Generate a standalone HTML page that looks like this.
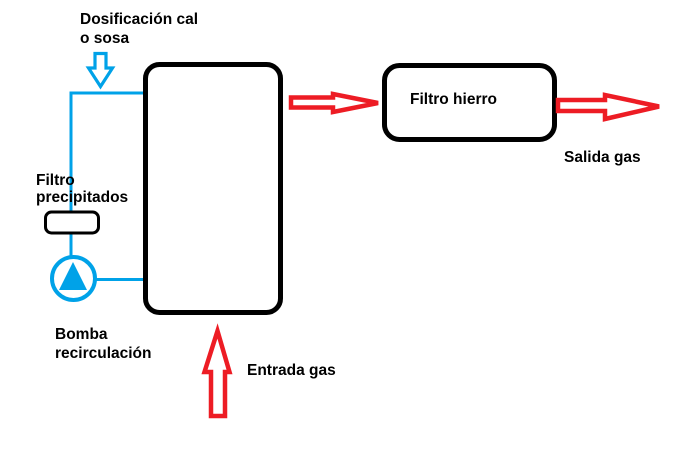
<!DOCTYPE html>
<html>
<head>
<meta charset="utf-8">
<style>
html,body{margin:0;padding:0;background:#fff;}
svg{display:block;}
text{font-family:"Liberation Sans",Arial,sans-serif;font-weight:bold;font-size:15.5px;fill:#000;}
</style>
</head>
<body>
<svg width="686" height="450" viewBox="0 0 686 450" xmlns="http://www.w3.org/2000/svg">
<rect width="686" height="450" fill="#fff"/>
<!-- blue piping -->
<g stroke="#00A2E8" stroke-width="3" fill="none">
  <polyline points="145,93 71,93 71,211"/>
  <line x1="71" y1="234" x2="71" y2="258"/>
  <line x1="96" y1="279.5" x2="145" y2="279.5"/>
  <circle cx="73.5" cy="278.5" r="21.5" stroke-width="4"/>
  <polygon points="95,53.5 106,53.5 106,68 112.5,68 100.5,86.5 88.5,68 95,68" stroke-width="3.2" stroke-linejoin="miter"/>
</g>
<polygon points="73,262 87,290 59,290" fill="#00A2E8"/>
<!-- filtro precipitados box -->
<rect x="45.5" y="212" width="53" height="21" rx="6" fill="#fff" stroke="#000" stroke-width="3"/>
<!-- tank -->
<rect x="145.5" y="64.5" width="135" height="248" rx="14" fill="none" stroke="#000" stroke-width="5"/>
<!-- filtro hierro -->
<rect x="384.5" y="65.5" width="170" height="74" rx="15" fill="none" stroke="#000" stroke-width="5"/>
<!-- red arrows -->
<g stroke="#ED1C24" stroke-width="4.5" fill="none" stroke-linejoin="miter">
  <polygon points="291,97.5 333,97.5 333,94 378,103 333,112 333,107.5 291,107.5"/>
  <polygon points="558,100 605,100 605,95 659,106.5 605,119 605,111 558,111"/>
  <polygon points="217.5,331 229.5,372 225,372 225,416 211,416 211,372 204.5,372"/>
</g>
<!-- labels -->
<text x="80" y="24">Dosificación cal</text>
<text x="80" y="43">o sosa</text>
<text x="36" y="185">Filtro</text>
<text x="36" y="202">precipitados</text>
<text x="410" y="104">Filtro hierro</text>
<text x="564" y="162">Salida gas</text>
<text x="55" y="339">Bomba</text>
<text x="55" y="358">recirculación</text>
<text x="247" y="375">Entrada gas</text>
</svg>
</body>
</html>
